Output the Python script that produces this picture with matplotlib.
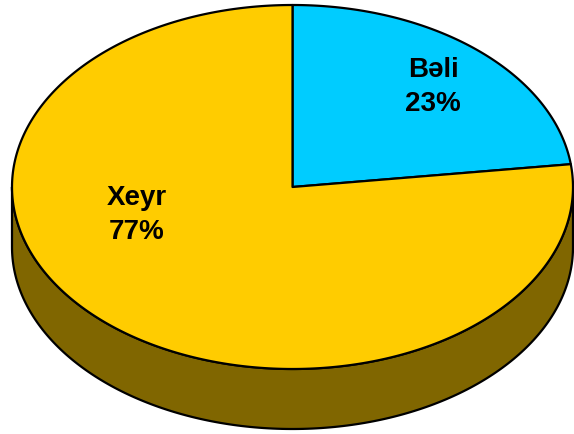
import numpy as np
import matplotlib.pyplot as plt
from matplotlib.patches import Polygon

labels = ['Bəli', 'Xeyr']
values = [23, 77]
colors = ['#00CCFF', '#FFCC00']
side_color = '#806600'

# ellipse geometry (pixels)
cx, cy = 292.5, 187
rx, ry = 280.5, 182
depth = 60

def pt(a):
    a = np.radians(a)
    return cx + rx * np.cos(a), cy - ry * np.sin(a)

fig = plt.figure(figsize=(5.74, 4.34), dpi=100)
ax = fig.add_axes([0, 0, 1, 1])
ax.set_xlim(0, 574)
ax.set_ylim(434, 0)
ax.axis('off')

# side wall (front half of the ellipse)
angs = np.linspace(180, 360, 200)
top = np.array([pt(a) for a in angs])
bot = top[::-1] + [0, depth]
side = np.vstack([top, bot])
ax.add_patch(Polygon(side, closed=True, fc=side_color, ec='black', lw=1.6))

# top face wedges, clockwise from 12 o'clock
start = 90
for lab, v, c in zip(labels, values, colors):
    end = start - v / sum(values) * 360
    a = np.linspace(start, end, 300)
    arc = np.array([pt(t) for t in a])
    poly = np.vstack([[cx, cy], arc])
    ax.add_patch(Polygon(poly, closed=True, fc=c, ec='black', lw=1.6, joinstyle='round'))
    start = end

txt = dict(ha='center', va='center', fontsize=20, fontweight='bold',
           family='Liberation Sans', linespacing=1.4)
ax.text(433, 87, '%s\n%d%%' % (labels[0], values[0]), **txt)
ax.text(137, 215, '%s\n%d%%' % (labels[1], values[1]), **txt)

fig.savefig('out.png', dpi=100)
